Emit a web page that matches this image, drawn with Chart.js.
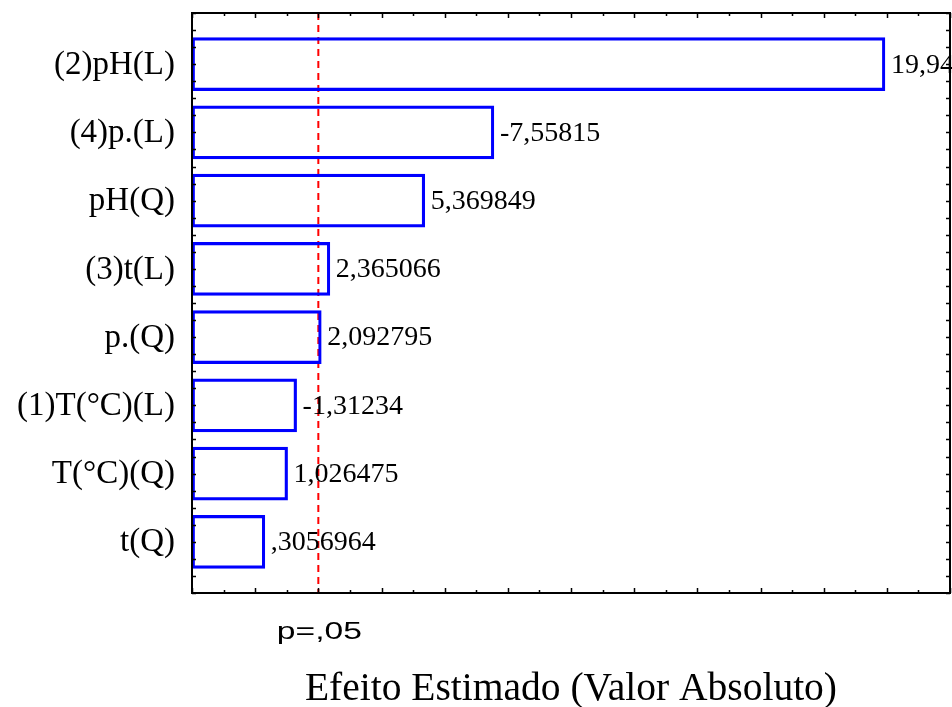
<!DOCTYPE html>
<html>
<head>
<meta charset="utf-8">
<script src="https://cdn.jsdelivr.net/npm/chart.js@4.4.1/dist/chart.umd.min.js"></script>
<style>
  html, body { margin: 0; padding: 0; background: #ffffff; }
  #wrap { width: 952px; height: 707px; }
</style>
</head>
<body>
<div id="wrap"><canvas id="pareto" width="952" height="707"></canvas></div>
<script>
// Pareto chart of standardized effects
const categories = ['(2)pH(L)', '(4)p.(L)', 'pH(Q)', '(3)t(L)', 'p.(Q)', '(1)T(°C)(L)', 'T(°C)(Q)', 't(Q)'];
const effects = [19.94, -7.55815, 5.369849, 2.365066, 2.092795, -1.31234, 1.026475, 0.3056964];
const criticalT = 2.0;          // p = ,05 reference line
const criticalLabel = 'p=,05';
const axisTitle = 'Efeito Estimado (Valor Absoluto)';
const xRange = [-2, 22];
const yRange = [-0.75, 7.75];

// Statistica-like number format: 7 significant digits, no trailing zeros,
// no leading zero, decimal comma
function fmt(v) {
  let s = Math.abs(v).toPrecision(7);
  if (s.indexOf('.') >= 0) s = s.replace(/0+$/, '').replace(/\.$/, '');
  if (s.startsWith('0.')) s = s.slice(1);
  s = s.replace('.', ',');
  return (v < 0 ? '-' : '') + s;
}

const serif = "'Liberation Serif', 'Times New Roman', serif";
const sans = "'Liberation Sans', Arial, sans-serif";

const decorations = {
  id: 'decorations',
  beforeDatasetsDraw(chart) {
    const { ctx, chartArea: a, scales: { x } } = chart;
    const px = x.getPixelForValue(criticalT);
    ctx.save();
    ctx.strokeStyle = '#ff0000';
    ctx.lineWidth = 2;
    ctx.setLineDash([7, 5]);
    ctx.beginPath();
    ctx.moveTo(px, a.top);
    ctx.lineTo(px, a.bottom);
    ctx.stroke();
    ctx.restore();
  },
  afterDatasetsDraw(chart) {
    const { ctx, chartArea: a, scales: { x, y } } = chart;
    ctx.save();
    ctx.fillStyle = '#000';

    // category labels left of the axis
    ctx.font = '33px ' + serif;
    ctx.textAlign = 'right';
    ctx.textBaseline = 'middle';
    categories.forEach((c, i) => {
      ctx.fillText(c, a.left - 17, y.getPixelForValue(i) + 1);
    });

    // value labels at the far end of each bar
    ctx.font = '28px ' + serif;
    ctx.textAlign = 'left';
    chart.getDatasetMeta(0).data.forEach((el, i) => {
      const end = Math.max(el.x, el.base);
      ctx.fillText(fmt(effects[i]), end + 6, el.y + 1);
    });

    // frame
    ctx.strokeStyle = '#000';
    ctx.lineWidth = 2;
    ctx.strokeRect(a.left, a.top, a.right - a.left, a.bottom - a.top);

    // inward tick marks on the x axis (top and bottom)
    ctx.lineWidth = 1.5;
    ctx.beginPath();
    for (let v = xRange[0]; v <= xRange[1]; v++) {
      const p = Math.round(x.getPixelForValue(v)) + 0.5;
      const len = (v % 2 === 0) ? 5 : 3;
      ctx.moveTo(p, a.bottom); ctx.lineTo(p, a.bottom - len);
      ctx.moveTo(p, a.top); ctx.lineTo(p, a.top + len);
    }
    // inward tick marks on the y axis (left and right)
    for (let v = yRange[0]; v <= yRange[1] + 1e-9; v += 0.25) {
      const p = Math.round(y.getPixelForValue(v)) + 0.5;
      ctx.moveTo(a.left, p); ctx.lineTo(a.left + 4, p);
      ctx.moveTo(a.right, p); ctx.lineTo(a.right - 4, p);
    }
    ctx.stroke();

    // critical value label under the dashed line
    const px = x.getPixelForValue(criticalT);
    ctx.font = '24px ' + sans;
    ctx.textAlign = 'center';
    ctx.textBaseline = 'alphabetic';
    ctx.save();
    ctx.translate(px + 1, a.bottom + 46);
    ctx.scale(1.4, 1);
    ctx.fillText(criticalLabel, 0, 0);
    ctx.restore();

    // axis title
    ctx.font = '39.5px ' + serif;
    ctx.fillText(axisTitle, (a.left + a.right) / 2, a.bottom + 107);
    ctx.restore();
  }
};

new Chart(document.getElementById('pareto'), {
  type: 'bar',
  data: {
    datasets: [{
      data: effects.map((v, i) => ({ x: [xRange[0], Math.abs(v)], y: i })),
      backgroundColor: 'rgba(255,255,255,0)',
      borderColor: '#0000ff',
      borderWidth: 2.5,
      borderSkipped: false,
      barThickness: 53
    }]
  },
  options: {
    indexAxis: 'y',
    responsive: false,
    animation: false,
    layout: { padding: { top: 13, right: 2, left: 0, bottom: 0 } },
    plugins: { legend: { display: false }, tooltip: { enabled: false } },
    scales: {
      x: {
        type: 'linear',
        offset: false,
        min: xRange[0], max: xRange[1],
        ticks: { display: false },
        grid: { display: false, drawTicks: false },
        border: { display: false },
        afterFit(s) { s.height = 114; }
      },
      y: {
        type: 'linear',
        offset: false,
        reverse: true,
        min: yRange[0], max: yRange[1],
        ticks: { display: false },
        grid: { display: false, drawTicks: false, offset: false },
        border: { display: false },
        afterFit(s) { s.width = 192; }
      }
    }
  },
  plugins: [decorations]
});
</script>
</body>
</html>
